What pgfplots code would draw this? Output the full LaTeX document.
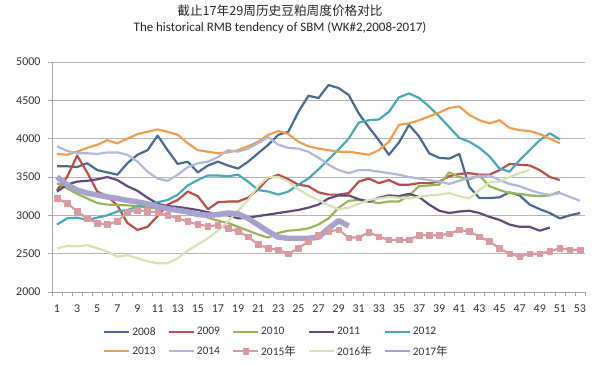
\documentclass[border=0pt]{standalone}
\usepackage{fontspec}
\setmainfont{Carlito}
\newfontfamily\cjk{Noto Sans CJK SC}
\usepackage{pgfplots}
\pgfplotsset{compat=1.18}
\definecolor{c08}{HTML}{4A6A8E}
\definecolor{c09}{HTML}{B5504C}
\definecolor{c10}{HTML}{9BB35A}
\definecolor{c11}{HTML}{5E4A7E}
\definecolor{c12}{HTML}{4AA8B5}
\definecolor{c13}{HTML}{EE9E50}
\definecolor{c14}{HTML}{B0B8DA}
\definecolor{c15}{HTML}{D99AA2}
\definecolor{c16}{HTML}{D6E2B6}
\definecolor{c17}{HTML}{A8A2CC}
\begin{document}
\begin{tikzpicture}
\path[use as bounding box] (-52bp,-74bp) rectangle (548bp,292bp);
\node[text=black!85] at (228bp,281bp) {\cjk\fontsize{12.7}{14}\selectfont 截止17年29周历史豆粕周度价格对比};
\node[text=black!85] at (228bp,264bp) {\fontsize{13}{15}\selectfont The historical RMB tendency of SBM (WK\#2,2008-2017)};
\begin{axis}[
  scale only axis, width=533bp, height=230bp,
  at={(0,0)}, anchor=south west,
  xmin=0.5, xmax=53.5, ymin=2000, ymax=5000,
  xtick={1,3,...,53}, minor xtick={0.5,1.5,...,53.5},
  ytick={2000,2500,...,5000},
  axis x line*=bottom, axis y line*=left,
  axis line style={-, draw=black!35, line width=0.8bp},
  ymajorgrids, major grid style={draw=black!30, line width=0.8bp},
  tick align=outside, major tick length=4bp, minor tick length=4bp,
  every major x tick/.append style={draw=none},
  every tick/.append style={draw=black!35, line width=0.6bp},
  /pgf/number format/assume math mode=true,
  /pgf/number format/1000 sep={},
  tick label style={font=\fontsize{12}{13}\selectfont, text=black!80},
  xticklabel style={yshift=-5bp},
  yticklabel style={xshift=-4bp},
  legend style={at={(0.09,-0.135)}, anchor=north west, draw=none, fill=none,
    font=\fontsize{11.5}{13}\selectfont, text=black!80,
    /tikz/every even column/.append style={column sep=10bp}, row sep=5bp},
  legend columns=5, legend cell align=left,
  legend image code/.code={\draw[#1, line width=2.2bp, mark repeat=2, mark phase=2] plot coordinates {(0bp,0bp) (12.5bp,0bp) (25bp,0bp)};},
  every axis plot/.append style={line width=2.2bp, line join=round},
]
\addplot[c08, no marks] coordinates {(1,3640)(2,3640)(3,3630)(4,3680)(5,3590)(6,3560)(7,3530)(8,3680)(9,3790)(10,3850)(11,4040)(12,3850)(13,3670)(14,3700)(15,3560)(16,3650)(17,3700)(18,3650)(19,3610)(20,3700)(21,3810)(22,3920)(23,4050)(24,4090)(25,4350)(26,4560)(27,4530)(28,4700)(29,4660)(30,4570)(31,4330)(32,4150)(33,3980)(34,3790)(35,3950)(36,4180)(37,4030)(38,3810)(39,3750)(40,3740)(41,3800)(42,3370)(43,3225)(44,3225)(45,3235)(46,3300)(47,3260)(48,3140)(49,3080)(50,3030)(51,2960)(52,3000)(53,3030)};
\addlegendentry{2008}
\addplot[c09, no marks] coordinates {(1,3330)(2,3500)(3,3780)(4,3560)(5,3310)(6,3250)(7,3130)(8,2900)(9,2810)(10,2850)(11,2990)(12,3140)(13,3200)(14,3310)(15,3250)(16,3080)(17,3170)(18,3180)(19,3180)(20,3230)(21,3340)(22,3480)(23,3530)(24,3470)(25,3400)(26,3380)(27,3300)(28,3270)(29,3270)(30,3290)(31,3440)(32,3480)(33,3420)(34,3460)(35,3400)(36,3400)(37,3420)(38,3420)(39,3440)(40,3510)(41,3540)(42,3550)(43,3530)(44,3530)(45,3590)(46,3670)(47,3660)(48,3650)(49,3590)(50,3500)(51,3460)};
\addlegendentry{2009}
\addplot[c10, no marks] coordinates {(1,3420)(2,3350)(3,3280)(4,3220)(5,3160)(6,3140)(7,3135)(8,3130)(9,3120)(10,3100)(11,3090)(12,3080)(13,3070)(14,3060)(15,3020)(16,2970)(17,2930)(18,2900)(19,2850)(20,2800)(21,2750)(22,2710)(23,2770)(24,2800)(25,2810)(26,2830)(27,2880)(28,2960)(29,3100)(30,3190)(31,3200)(32,3180)(33,3160)(34,3180)(35,3180)(36,3260)(37,3380)(38,3390)(39,3400)(40,3560)(41,3500)(42,3470)(43,3520)(44,3380)(45,3330)(46,3290)(47,3280)(48,3260)(49,3250)(50,3260)(51,3310)};
\addlegendentry{2010}
\addplot[c11, no marks] coordinates {(1,3310)(2,3400)(3,3440)(4,3450)(5,3470)(6,3500)(7,3460)(8,3380)(9,3320)(10,3230)(11,3150)(12,3120)(13,3110)(14,3090)(15,3070)(16,3040)(17,3010)(18,3000)(19,2960)(20,2970)(21,2990)(22,3010)(23,3030)(24,3050)(25,3070)(26,3100)(27,3140)(28,3220)(29,3260)(30,3260)(31,3210)(32,3180)(33,3230)(34,3260)(35,3250)(36,3280)(37,3240)(38,3140)(39,3060)(40,3030)(41,3050)(42,3060)(43,3030)(44,2980)(45,2940)(46,2880)(47,2850)(48,2850)(49,2800)(50,2840)};
\addlegendentry{2011}
\addplot[c12, no marks] coordinates {(1,2880)(2,2960)(3,2970)(4,2940)(5,2970)(6,3000)(7,3050)(8,3070)(9,3110)(10,3140)(11,3170)(12,3200)(13,3270)(14,3390)(15,3460)(16,3520)(17,3520)(18,3510)(19,3530)(20,3440)(21,3330)(22,3310)(23,3270)(24,3310)(25,3400)(26,3480)(27,3600)(28,3730)(29,3860)(30,4000)(31,4210)(32,4240)(33,4250)(34,4350)(35,4540)(36,4590)(37,4530)(38,4420)(39,4290)(40,4150)(41,4010)(42,3960)(43,3880)(44,3770)(45,3610)(46,3570)(47,3720)(48,3850)(49,3980)(50,4070)(51,3990)};
\addlegendentry{2012}
\addplot[c13, no marks] coordinates {(1,3800)(2,3790)(3,3830)(4,3880)(5,3920)(6,3980)(7,3940)(8,4000)(9,4060)(10,4090)(11,4120)(12,4090)(13,4050)(14,3940)(15,3850)(16,3830)(17,3810)(18,3820)(19,3850)(20,3900)(21,3960)(22,4050)(23,4100)(24,4060)(25,3960)(26,3900)(27,3870)(28,3850)(29,3830)(30,3830)(31,3810)(32,3790)(33,3850)(34,3960)(35,4180)(36,4200)(37,4240)(38,4290)(39,4340)(40,4400)(41,4420)(42,4310)(43,4240)(44,4200)(45,4240)(46,4140)(47,4110)(48,4100)(49,4060)(50,4000)(51,3940)};
\addlegendentry{2013}
\addplot[c14, no marks] coordinates {(1,3900)(2,3840)(3,3810)(4,3810)(5,3800)(6,3820)(7,3820)(8,3790)(9,3700)(10,3570)(11,3480)(12,3450)(13,3530)(14,3630)(15,3680)(16,3700)(17,3760)(18,3850)(19,3830)(20,3870)(21,3940)(22,4020)(23,3920)(24,3880)(25,3870)(26,3830)(27,3750)(28,3660)(29,3590)(30,3550)(31,3590)(32,3590)(33,3570)(34,3550)(35,3530)(36,3500)(37,3480)(38,3460)(39,3440)(40,3410)(41,3450)(42,3490)(43,3510)(44,3520)(45,3460)(46,3410)(47,3380)(48,3330)(49,3290)(50,3265)(51,3290)(52,3240)(53,3190)};
\addlegendentry{2014}
\addplot[c15, mark=square*, mark size=2.8bp, mark options={fill=c15, draw=c15, line width=0.5bp}] coordinates {(1,3220)(2,3160)(3,3050)(4,2960)(5,2900)(6,2880)(7,2920)(8,3040)(9,3070)(10,3050)(11,3040)(12,3000)(13,2960)(14,2920)(15,2880)(16,2860)(17,2870)(18,2830)(19,2790)(20,2720)(21,2620)(22,2570)(23,2550)(24,2500)(25,2570)(26,2660)(27,2740)(28,2790)(29,2810)(30,2710)(31,2710)(32,2780)(33,2720)(34,2680)(35,2680)(36,2680)(37,2740)(38,2740)(39,2740)(40,2760)(41,2810)(42,2790)(43,2720)(44,2660)(45,2570)(46,2500)(47,2460)(48,2500)(49,2500)(50,2530)(51,2570)(52,2550)(53,2550)};
\addlegendentry{2015{\cjk 年}}
\addplot[c16, no marks] coordinates {(1,2570)(2,2600)(3,2595)(4,2610)(5,2570)(6,2530)(7,2460)(8,2480)(9,2440)(10,2400)(11,2375)(12,2375)(13,2440)(14,2540)(15,2620)(16,2700)(17,2800)(18,2920)(19,3060)(20,3200)(21,3380)(22,3500)(23,3500)(24,3440)(25,3340)(26,3260)(27,3200)(28,3130)(29,3080)(30,3100)(31,3150)(32,3200)(33,3220)(34,3240)(35,3230)(36,3220)(37,3240)(38,3260)(39,3270)(40,3290)(41,3250)(42,3220)(43,3330)(44,3430)(45,3440)(46,3500)(47,3550)(48,3590)};
\addlegendentry{2016{\cjk 年}}
\addplot[c17, no marks, line width=5.5bp] coordinates {(1,3500)(2,3400)(3,3330)(4,3290)(5,3265)(6,3240)(7,3220)(8,3195)(9,3175)(10,3150)(11,3113)(12,3085)(13,3065)(14,3045)(15,3010)(16,3000)(17,3010)(18,3030)(19,3020)(20,2960)(21,2875)(22,2790)(23,2715)(24,2700)(25,2700)(26,2700)(27,2715)(28,2830)(29,2930)(30,2860)};
\addlegendentry{2017{\cjk 年}}
\end{axis}
\end{tikzpicture}
\end{document}
